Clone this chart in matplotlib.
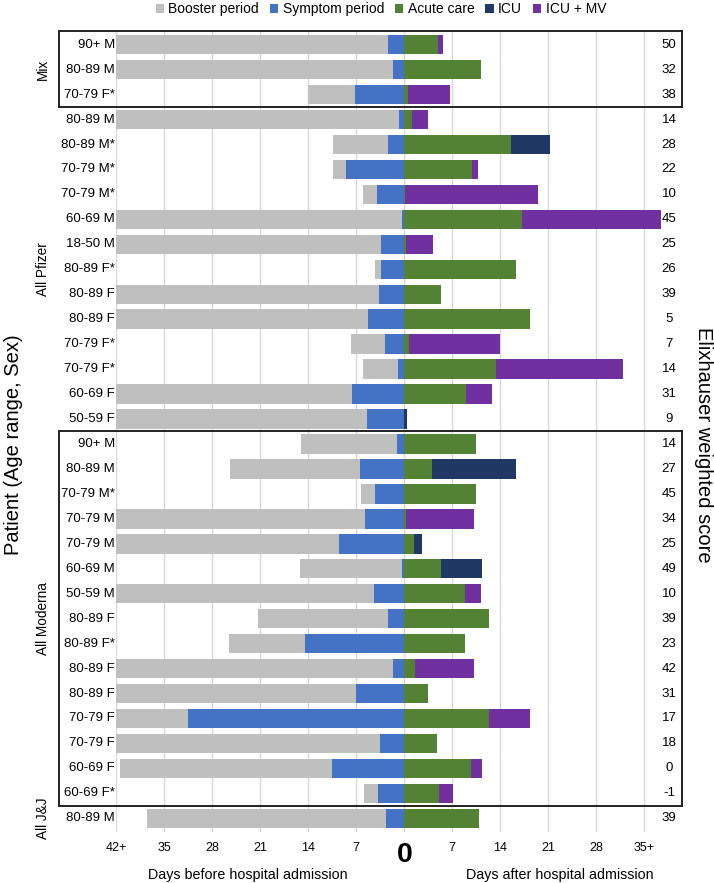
import matplotlib
matplotlib.use("Agg")
import matplotlib.pyplot as plt
from matplotlib.patches import Patch, Rectangle
from matplotlib.transforms import blended_transform_factory

plt.rcParams['font.family'] = ['Liberation Sans', 'DejaVu Sans']

# ---------------- data ----------------
patients = ["90+ M", "80-89 M", "70-79 F*",
            "80-89 M", "80-89 M*", "70-79 M*", "70-79 M*", "60-69 M", "18-50 M",
            "80-89 F*", "80-89 F", "80-89 F", "70-79 F*", "70-79 F*", "60-69 F", "50-59 F",
            "90+ M", "80-89 M", "70-79 M*", "70-79 M", "70-79 M", "60-69 M", "50-59 M",
            "80-89 F", "80-89 F*", "80-89 F", "80-89 F", "70-79 F", "70-79 F", "60-69 F", "60-69 F*",
            "80-89 M"]
elixhauser = [50, 32, 38,
              14, 28, 22, 10, 45, 25, 26, 39, 5, 7, 14, 31, 9,
              14, 27, 45, 34, 25, 49, 10, 39, 23, 42, 31, 17, 18, 0, -1,
              39]
# days before admission when booster period starts (42 = 42+)
booster_start = [42, 42, 14.1,
                 42, 10.4, 10.4, 6.0, 42, 42, 4.3, 42, 42, 7.8, 6.0, 42, 42,
                 15.0, 25.4, 6.3, 42, 42, 15.2, 42, 21.4, 25.5, 42, 42, 42, 42, 41.5, 5.9,
                 37.5]
# days before admission when symptom period starts
symptom_start = [2.4, 1.6, 7.2,
                 0.8, 2.4, 8.5, 4.0, 0.3, 3.4, 3.4, 3.7, 5.3, 2.8, 0.9, 7.7, 5.4,
                 1.0, 6.4, 4.3, 5.7, 9.5, 0.3, 4.4, 2.4, 14.5, 1.7, 7.1, 31.5, 3.5, 10.6, 3.8,
                 2.7]
acute_care = [4.9, 11.2, 0.5,
              1.1, 15.5, 9.9, 0.1, 17.2, 0.3, 16.3, 5.4, 18.4, 0.7, 13.4, 9.0, 0.0,
              10.5, 4.0, 10.5, 0.3, 1.4, 5.4, 8.8, 12.4, 8.9, 1.5, 3.5, 12.4, 4.7, 9.8, 5.1,
              10.9]
icu = [0, 0, 0,
       0, 5.8, 0, 0, 0, 0, 0, 0, 0, 0, 0, 0, 0.35,
       0, 12.3, 0, 0, 1.2, 6.0, 0, 0, 0, 0, 0, 0, 0, 0, 0,
       0]
icu_mv = [0.8, 0, 6.2,
          2.4, 0, 0.85, 19.4, 20.2, 3.95, 0, 0, 0, 13.3, 18.5, 3.8, 0,
          0, 0, 0, 9.9, 0, 0, 2.4, 0, 0, 8.7, 0, 5.9, 0, 1.5, 2.0,
          0]
groups = ["Mix", "All Pfizer", "All Moderna", "All J&J"]
group_sizes = [3, 13, 15, 1]
boxed_groups = ["Mix", "All Moderna"]

tick_values = [-42, -35, -28, -21, -14, -7, 0, 7, 14, 21, 28, 35]
tick_labels = ["42+", "35", "28", "21", "14", "7", "0", "7", "14", "21", "28", "35+"]

series_names = ["Booster period", "Symptom period", "Acute care", "ICU", "ICU + MV"]
colors = ["#bfbfbf", "#4472c4", "#548235", "#203864", "#7030a0"]

# ---------------- figure ----------------
W, H = 714, 883
fig = plt.figure(figsize=(W / 100, H / 100), dpi=100)
px_per_day = 6.857
zero_px = 404.3
xmin, xmax = -42, 40.5
left_px = zero_px + xmin * px_per_day
right_px = zero_px + xmax * px_per_day
top_px, bot_px = 31, 832
ax = fig.add_axes([left_px / W, 1 - bot_px / H, (right_px - left_px) / W, (bot_px - top_px) / H])
ax.set_xlim(xmin, xmax)
n = len(patients)
ax.set_ylim(n - 1 + 0.55, -0.55)
for s in ax.spines.values():
    s.set_visible(False)

# grid
for t in tick_values:
    ax.axvline(t, color="#d9d9d9", lw=1.0, zorder=0)

ys = list(range(n))
h = 0.78
bs = [min(b, 42) for b in booster_start]
ax.barh(ys, [b - s for b, s in zip(bs, symptom_start)], left=[-b for b in bs],
        height=h, color=colors[0], zorder=2)
ax.barh(ys, symptom_start, left=[-s for s in symptom_start], height=h, color=colors[1], zorder=2)
ax.barh(ys, acute_care, left=0, height=h, color=colors[2], zorder=2)
ax.barh(ys, icu, left=acute_care, height=h, color=colors[3], zorder=2)
ax.barh(ys, icu_mv, left=[a + i for a, i in zip(acute_care, icu)], height=h, color=colors[4], zorder=2)

# ticks
ax.set_yticks([])
ax.set_xticks(tick_values)
ax.set_xticklabels(tick_labels, fontsize=9.0)
ax.tick_params(axis="x", length=0, pad=7.5)
for lab in ax.get_xticklabels():
    if lab.get_text() == "0":
        lab.set_fontsize(20.5)
        lab.set_fontweight("bold")

tr = blended_transform_factory(fig.transFigure, ax.transData)
# row labels and scores
for y, p, e in zip(ys, patients, elixhauser):
    ax.text(115 / W, y, p, transform=tr, ha="right", va="center", fontsize=9.5)
    ax.text(669 / W, y, str(e), transform=tr, ha="center", va="center", fontsize=9.5)

# group labels and boxes
start = 0
for g, sz in zip(groups, group_sizes):
    mid = start + (sz - 1) / 2
    ax.text(43 / W, mid, g, transform=tr, rotation=90, ha="center", va="center", fontsize=9.8)
    if g in boxed_groups:
        top = start - 0.5 if start > 0 else -0.55
        bottom = start + sz - 0.5
        rect = Rectangle((59.3 / W, top), (682.3 - 59.3) / W, bottom - top,
                         transform=tr, fill=False, edgecolor="#222222", lw=1.4, clip_on=False, zorder=5)
        ax.add_patch(rect)
    start += sz

# axis titles
fig.text(248 / W, 1 - 875 / H, "Days before hospital admission", ha="center", va="center", fontsize=10.3)
fig.text(560 / W, 1 - 875 / H, "Days after hospital admission", ha="center", va="center", fontsize=10.3)
fig.text(14 / W, 1 - 445 / H, "Patient (Age range, Sex)", rotation=90, ha="center", va="center", fontsize=14.5)
fig.text(703 / W, 1 - 445 / H, "Elixhauser weighted score", rotation=270, ha="center", va="center", fontsize=14.5)

# legend
handles = [Patch(facecolor=c, edgecolor="none") for c in colors]
fig.legend(handles, series_names, loc="center", bbox_to_anchor=(381 / W, 1 - 9 / H), ncol=5,
           frameon=False, fontsize=10, handlelength=0.6, handleheight=0.6,
           handletextpad=0.3, columnspacing=0.8, borderaxespad=0)

fig.savefig("out.png", dpi=100)
